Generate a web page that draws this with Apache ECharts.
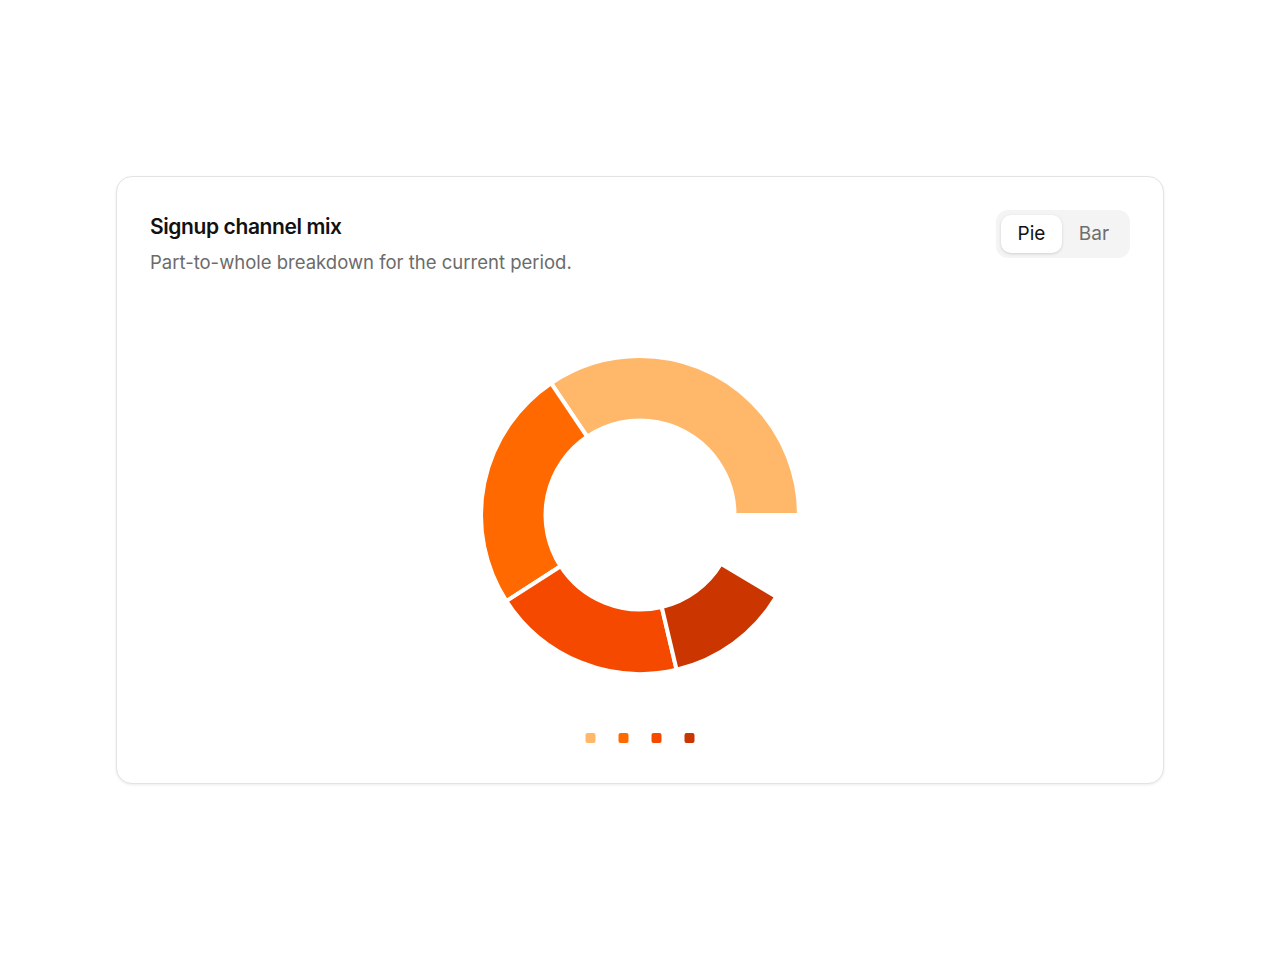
<!DOCTYPE html>
<html>
<head>
<meta charset="utf-8">
<script src="https://cdn.jsdelivr.net/npm/echarts@6/dist/echarts.min.js"></script>
<style>
  html, body { margin: 0; padding: 0; background: #fff; }
  body { width: 1280px; height: 960px; position: relative; font-family: Inter, "Noto Sans", sans-serif; }
  .card {
    position: absolute; left: 116px; top: 176px; width: 1048px; height: 608px;
    box-sizing: border-box; border: 1px solid #e3e3e3; border-radius: 16px;
    box-shadow: 0 1px 3px rgba(0,0,0,0.08); background: #fff;
  }
  .title { position: absolute; left: 33px; top: 37px; font-size: 21px; font-weight: 600; color: #111; letter-spacing: -0.4px; }
  .sub { position: absolute; left: 33px; top: 74px; font-size: 18.5px; color: #6b6b6b; }
  .toggle {
    position: absolute; left: 879px; top: 33px; width: 134px; height: 48px;
    background: #f4f4f4; border-radius: 12px;
  }
  .btn { position: absolute; top: 5px; height: 38px; line-height: 38px; font-size: 19px; text-align: center; }
  .btn.on { left: 5px; width: 61px; background: #fff; border-radius: 10px; color: #111; box-shadow: 0 1px 3px rgba(0,0,0,0.15); }
  .btn.off { left: 70px; width: 56px; color: #6e6e6e; }
  #chart { position: absolute; left: 0; top: 120px; width: 1046px; height: 480px; }
</style>
</head>
<body>
<div class="card">
  <div class="title">Signup channel mix</div>
  <div class="sub">Part-to-whole breakdown for the current period.</div>
  <div class="toggle"><div class="btn on">Pie</div><div class="btn off">Bar</div></div>
  <div id="chart"></div>
</div>
<script>
const channels = ['Organic', 'Paid', 'Referral', 'Partner'];
const signups = [380, 272, 216, 140];
const colors = ['#ffb86a', '#ff6900', '#f54900', '#ca3500'];

const myChart = echarts.init(document.getElementById('chart'));
const option = {
  animation: false,
  color: colors,
  legend: {
    data: channels,
    bottom: 27,
    left: 'center',
    icon: 'roundRect',
    itemWidth: 12,
    itemHeight: 12,
    itemGap: 19,
    formatter: () => '',
  },
  series: [
    {
      type: 'pie',
      center: ['50%', 218],
      radius: [94.5, 159],
      startAngle: 0,
      endAngle: 329,
      clockwise: false,
      label: { show: false },
      labelLine: { show: false },
      itemStyle: { borderColor: '#fff', borderWidth: 4 },
      data: channels.map((name, i) => ({ name: name, value: signups[i] })),
    },
  ],
};
myChart.setOption(option, true);
</script>
</body>
</html>
